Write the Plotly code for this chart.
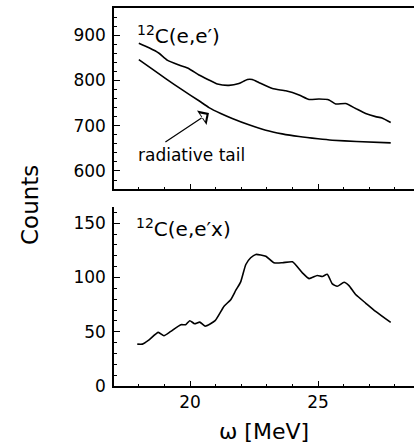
import plotly.graph_objects as go

# Inclusive 12C(e,e') spectrum (top panel)
omega_incl = [18.0, 18.4, 18.79, 19.11, 19.57, 19.96, 20.35, 20.74, 21.07, 21.52, 21.91,
              22.24, 22.43, 22.7, 23.22, 23.74, 24.26, 24.65, 25.04, 25.43, 25.69, 26.08,
              26.47, 26.86, 27.25, 27.5, 27.84]
counts_incl = [882, 872, 860, 845, 834, 826, 812, 801, 792, 789, 793,
               802, 802, 795, 782, 777, 768, 758, 759, 757, 748, 749,
               738, 727, 720, 717, 707]

# Radiative tail (top panel)
omega_tail = [18.0, 18.5, 19.05, 19.7, 20.35, 20.74, 21.2, 21.65, 22.3, 22.96, 23.6,
              24.26, 25.0, 25.56, 26.5, 27.84]
counts_tail = [846, 826, 804, 779, 755, 740, 727, 716, 702, 690, 682,
               676, 671, 668, 665, 662]

# Coincidence 12C(e,e'x) spectrum (bottom panel)
omega_coinc = [17.94, 18.14, 18.4, 18.76, 18.98, 19.25, 19.64, 19.83, 19.99, 20.18, 20.38,
               20.59, 20.98, 21.33, 21.59, 21.79, 21.98, 22.18, 22.37, 22.57, 22.96, 23.28,
               23.61, 24.0, 24.39, 24.65, 24.97, 25.17, 25.36, 25.56, 25.75, 26.02, 26.21,
               26.47, 26.86, 27.25, 27.84]
counts_coinc = [38.6, 38.6, 42.6, 49.4, 46.3, 50.3, 56.5, 56.5, 60.2, 57.4, 58.9,
                55.2, 60.2, 73.5, 79.6, 88.3, 96.0, 112.0, 118.2, 121.3, 119.7, 113.6,
                113.6, 114.5, 104.3, 99.0, 101.9, 101.0, 103.0, 94.1, 91.9, 95.7, 92.6,
                84.3, 76.5, 68.8, 58.6]

FONT = "DejaVu Sans"
line_style = dict(color="black", width=1.6, shape="spline", smoothing=0.5)

fig = go.Figure()
fig.add_trace(go.Scatter(x=omega_incl, y=counts_incl, mode="lines", line=line_style,
                         xaxis="x", yaxis="y", showlegend=False))
fig.add_trace(go.Scatter(x=omega_tail, y=counts_tail, mode="lines", line=line_style,
                         xaxis="x", yaxis="y", showlegend=False))
fig.add_trace(go.Scatter(x=omega_coinc, y=counts_coinc, mode="lines", line=line_style,
                         xaxis="x2", yaxis="y2", showlegend=False))

x_common = dict(range=[17.03, 28.75], dtick=5, tick0=0, ticks="inside", ticklen=5,
                tickwidth=1.3, tickcolor="black", showline=True, linecolor="black",
                linewidth=1.5, showgrid=False, zeroline=False,
                minor=dict(dtick=1, tick0=0, ticks="inside", ticklen=2.5, tickwidth=1.2,
                           tickcolor="black", showgrid=False),
                tickfont=dict(family=FONT, size=17, color="black"))
y_common = dict(ticks="inside", ticklen=6, tickwidth=1.3, tickcolor="black",
                showline=True, linecolor="black", linewidth=1.5, showgrid=False,
                zeroline=False, tickfont=dict(family=FONT, size=17, color="black"),
                ticklabelstandoff=3)

fig.update_layout(
    width=414, height=445,
    margin=dict(l=114, r=0, t=8, b=59),
    plot_bgcolor="white", paper_bgcolor="white",
    xaxis=dict(**x_common, domain=[0, 1], anchor="y", showticklabels=False, mirror=True),
    yaxis=dict(**y_common, domain=[0.521, 1.0], anchor="x", range=[560, 960],
               dtick=100, tick0=0,
               minor=dict(dtick=20, tick0=0, ticks="inside", ticklen=3, tickwidth=1.2,
                          tickcolor="black", showgrid=False)),
    xaxis2=dict(**x_common, domain=[0, 1], anchor="y2",
                title=dict(text="ω [MeV]", font=dict(family=FONT, size=22, color="black"),
                           standoff=12)),
    yaxis2=dict(**y_common, domain=[0, 0.4735], anchor="x2", range=[0, 165],
                dtick=50, tick0=0,
                minor=dict(dtick=10, tick0=0, ticks="inside", ticklen=3, tickwidth=1.2,
                           tickcolor="black", showgrid=False)),
    annotations=[
        dict(text="<sup>12</sup>C(e,e′)", x=17.85, y=900, xref="x", yref="y",
             xanchor="left", yanchor="middle", showarrow=False,
             font=dict(family=FONT, size=20, color="black")),
        dict(text="<sup>12</sup>C(e,e′x)", x=17.8, y=146, xref="x2", yref="y2",
             xanchor="left", yanchor="middle", showarrow=False,
             font=dict(family=FONT, size=20, color="black")),
        dict(text="radiative tail", x=17.9, y=636, xref="x", yref="y",
             xanchor="left", yanchor="middle", showarrow=False,
             font=dict(family=FONT, size=17, color="black")),
        # arrow (black outline head)
        dict(text="", x=20.74, y=728, ax=18.98, ay=662, xref="x", yref="y",
             axref="x", ayref="y", showarrow=True, arrowhead=1, arrowsize=2.4,
             arrowwidth=1.2, arrowcolor="black"),
        # white inner head to make the arrowhead hollow
        dict(text="", x=20.74, y=728, ax=-9, ay=6, xref="x", yref="y",
             showarrow=True, arrowhead=1, arrowsize=1.3, arrowwidth=1.2,
             arrowcolor="white", standoff=3),
        dict(text="Counts", x=-(114 - 30) / 300, y=(445 - 59 - 205) / 378,
             xref="paper", yref="paper", showarrow=False, textangle=-90,
             xanchor="center", yanchor="middle",
             font=dict(family=FONT, size=23, color="black")),
    ],
)

fig.write_html("out.html")
